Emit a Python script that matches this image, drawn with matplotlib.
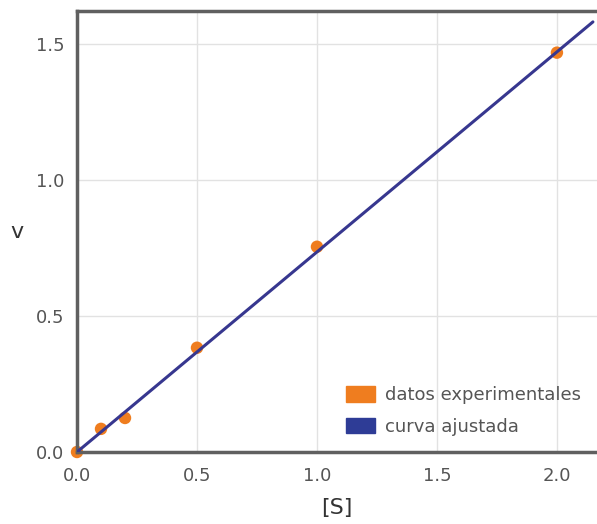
import matplotlib
matplotlib.use("Agg")
import matplotlib.pyplot as plt
from matplotlib.patches import Patch

# data
s_data = [0.0, 0.1, 0.2, 0.5, 1.0, 2.0]
v_data = [0.0, 0.085, 0.125, 0.383, 0.754, 1.467]
fit_x = [0.0, 2.15]
fit_y = [0.0, 1.58]
x_ticks = [0.0, 0.5, 1.0, 1.5, 2.0]
y_ticks = [0.0, 0.5, 1.0, 1.5]
legend_labels = ["datos experimentales", "curva ajustada"]

orange = "#ef7d1f"
blue = "#37378f"
legend_blue = "#2e3c96"
spine_c = "#606060"
text_c = "#555555"

fig = plt.figure(figsize=(5.97, 5.24), dpi=100)
ax = fig.add_axes([0.129, 0.1374, 0.871, 0.8416])

ax.plot(fit_x, fit_y, color=blue, lw=2.2, zorder=3, solid_capstyle="round")
ax.scatter(s_data, v_data, s=80, color=orange, zorder=2, edgecolors="none",
           clip_on=False)

ax.set_xlim(0, 2.167)
ax.set_ylim(0, 1.62)
ax.set_xticks(x_ticks)
ax.set_yticks(y_ticks)
ax.set_xticklabels([f"{t:.1f}" for t in x_ticks])
ax.set_yticklabels([f"{t:.1f}" for t in y_ticks])
ax.tick_params(length=0, labelsize=13, colors=text_c)
ax.tick_params(axis="y", pad=9)
ax.tick_params(axis="x", pad=11)
ax.grid(True, color="#e2e2e2", lw=1)
ax.set_axisbelow(True)

for side in ["left", "bottom", "top"]:
    ax.spines[side].set_color(spine_c)
    ax.spines[side].set_linewidth(2.5)
ax.spines["right"].set_visible(False)

ax.set_xlabel("[S]", fontsize=16, color="#333333", labelpad=9)
ax.set_ylabel("v", fontsize=16, color="#333333", rotation=0, labelpad=14, va="center")

handles = [Patch(color=orange), Patch(color=legend_blue)]
leg = ax.legend(handles, legend_labels, loc="lower right", frameon=False,
                fontsize=13, handlelength=1.6, handleheight=0.95,
                handletextpad=0.55, labelspacing=0.75, borderaxespad=0.5)
for t in leg.get_texts():
    t.set_color(text_c)

fig.savefig("out.png", dpi=100)
